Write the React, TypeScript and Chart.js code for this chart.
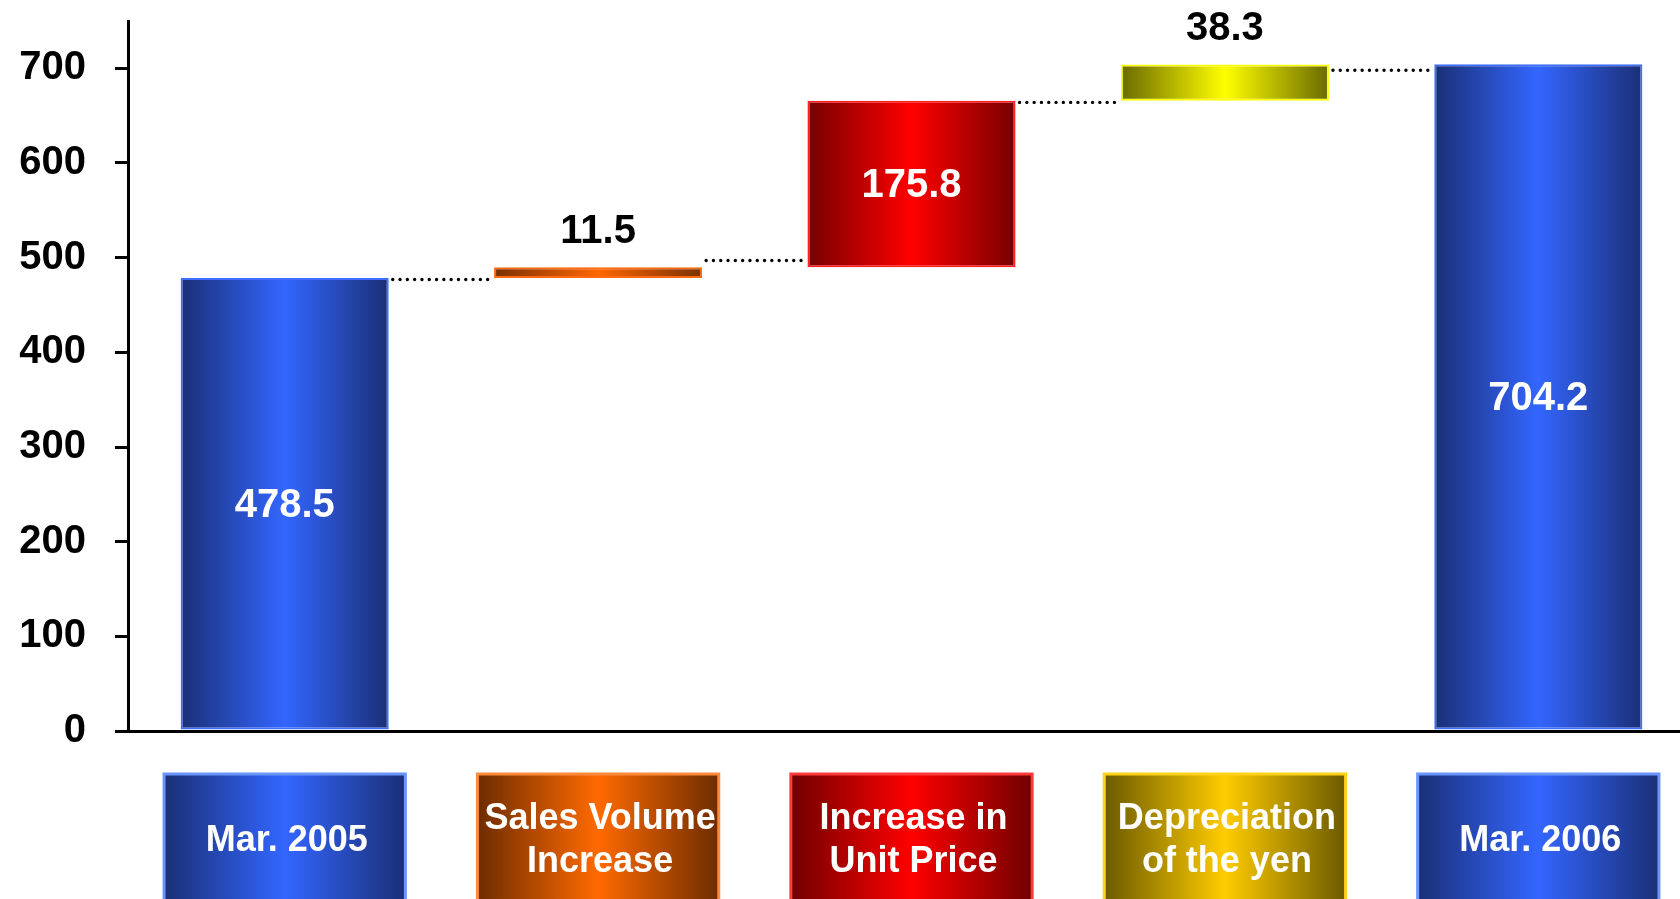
import React, { useEffect, useRef } from "react";
import { Chart, registerables } from "chart.js";

Chart.register(...registerables);

// ---- data ----
const categories = ["Mar. 2005", "Sales Volume Increase", "Increase in Unit Price", "Depreciation of the yen", "Mar. 2006"];
const categoryLines = [["Mar. 2005"], ["Sales Volume", "Increase"], ["Increase in", "Unit Price"], ["Depreciation", "of the yen"], ["Mar. 2006"]];
const barStart = [0, 478.5, 490.0, 665.8, 0];
const barEnd = [478.5, 490.0, 665.8, 704.1, 704.2];
const valueText = ["478.5", "11.5", "175.8", "38.3", "704.2"];
const valueInside = [true, false, true, false, true];
const connectorLevel = [477, 497, 664, 698];
const yMin = 0;
const yMax = 750;
const yStep = 100;

// ---- styles ----
const FONT = '"Liberation Sans", Arial, Helvetica, sans-serif';
const BAR_PCT = 0.664;
const BOX_PCT = 0.77;
const barPalette = [
  { dark: "#1a2f76", bright: "#3366ff", border: "#3f6fff" },
  { dark: "#7a3000", bright: "#ff6600", border: "#ff6a10" },
  { dark: "#760000", bright: "#ff0000", border: "#ff2020" },
  { dark: "#6a6a00", bright: "#ffff00", border: "#ffff00" },
  { dark: "#1a2f76", bright: "#3366ff", border: "#3f6fff" },
];
const boxPalette = [
  { dark: "#1a2f76", bright: "#3366ff", border: "#6a95ff" },
  { dark: "#6e2c00", bright: "#ff6a00", border: "#ff8a3a" },
  { dark: "#700000", bright: "#ff0000", border: "#ff3a3a" },
  { dark: "#6b5a00", bright: "#ffcc00", border: "#ffd21a" },
  { dark: "#1a2f76", bright: "#3366ff", border: "#6a95ff" },
];

function hGrad(ctx: CanvasRenderingContext2D, x0: number, x1: number, dark: string, bright: string) {
  const g = ctx.createLinearGradient(x0, 0, x1, 0);
  g.addColorStop(0, dark);
  g.addColorStop(0.5, bright);
  g.addColorStop(1, dark);
  return g;
}

const overlayPlugin = {
  id: "overlay",
  afterDatasetsDraw(chart: any) {
    const ctx: CanvasRenderingContext2D = chart.ctx;
    const meta = chart.getDatasetMeta(0);
    const ys = chart.scales.y;
    // dotted connectors
    ctx.save();
    ctx.strokeStyle = "#000";
    ctx.lineWidth = 3.4;
    ctx.lineCap = "round";
    ctx.setLineDash([0, 7.3]);
    for (let i = 0; i < connectorLevel.length; i++) {
      const a = meta.data[i].getProps(["x", "width"], true);
      const b = meta.data[i + 1].getProps(["x", "width"], true);
      const y = ys.getPixelForValue(connectorLevel[i]);
      ctx.beginPath();
      ctx.moveTo(a.x + a.width / 2 + 4, y);
      ctx.lineTo(b.x - b.width / 2 - 3, y);
      ctx.stroke();
    }
    ctx.restore();
    // value labels
    ctx.save();
    ctx.font = `bold 40px ${FONT}`;
    ctx.textAlign = "center";
    meta.data.forEach((el: any, i: number) => {
      const p = el.getProps(["x", "y", "base"], true);
      const top = Math.min(p.y, p.base);
      const bot = Math.max(p.y, p.base);
      if (valueInside[i]) {
        ctx.fillStyle = "#ffffff";
        ctx.textBaseline = "middle";
        ctx.fillText(valueText[i], p.x, (top + bot) / 2 + 2);
      } else {
        ctx.fillStyle = "#000000";
        ctx.textBaseline = "alphabetic";
        ctx.fillText(valueText[i], p.x, top - 24);
      }
    });
    ctx.restore();
  },
  afterDraw(chart: any) {
    const ctx: CanvasRenderingContext2D = chart.ctx;
    const xs = chart.scales.x;
    const area = chart.chartArea;
    const catW = xs.width / categories.length;
    const w = catW * BOX_PCT;
    const top = area.bottom + 43;
    const h = 140;
    ctx.save();
    categories.forEach((_, i) => {
      const cx = xs.getPixelForValue(i);
      const pal = boxPalette[i];
      const x0 = cx - w / 2;
      ctx.fillStyle = hGrad(ctx, x0, x0 + w, pal.dark, pal.bright);
      ctx.fillRect(x0, top, w, h);
      ctx.strokeStyle = pal.border;
      ctx.lineWidth = 3;
      ctx.strokeRect(x0, top, w, h);
      ctx.fillStyle = "#ffffff";
      ctx.font = `bold 36px ${FONT}`;
      ctx.textAlign = "center";
      ctx.textBaseline = "middle";
      const lines = categoryLines[i];
      const lh = 43;
      const midY = top + 66;
      lines.forEach((ln, k) => {
        const y = midY + (k - (lines.length - 1) / 2) * lh;
        ctx.fillText(ln, cx + 2, y + 1);
      });
    });
    ctx.restore();
  },
};

export default function App() {
  const ref = useRef<HTMLCanvasElement | null>(null);
  useEffect(() => {
    if (!ref.current) return;
    const chart = new Chart(ref.current, {
      type: "bar",
      data: {
        labels: categories,
        datasets: [
          {
            data: barStart.map((s, i) => [s, barEnd[i]]) as any,
            backgroundColor: (c: any) => {
              if (c.type !== "data") return "#3366ff";
              const chart = c.chart;
              const xs = chart.scales && chart.scales.x;
              const pal = barPalette[c.dataIndex];
              if (!xs || !xs.width) return pal.bright;
              const cx = xs.getPixelForValue(c.dataIndex);
              const half = (xs.width / categories.length) * BAR_PCT / 2;
              return hGrad(chart.ctx, cx - half, cx + half, pal.dark, pal.bright);
            },
            borderColor: barPalette.map((p) => p.border),
            borderWidth: 2,
            borderSkipped: false,
            categoryPercentage: 1,
            barPercentage: BAR_PCT,
          },
        ],
      },
      options: {
        responsive: false,
        animation: false,
        devicePixelRatio: 1,
        layout: { padding: { top: 21, left: 0, right: 0, bottom: 0 } },
        plugins: { legend: { display: false }, tooltip: { enabled: false } },
        scales: {
          x: {
            type: "category",
            z: 1,
            grid: { display: false },
            ticks: { display: false },
            border: { display: true, color: "#000", width: 3 },
            afterFit: (s: any) => {
              s.height = 168;
              s.paddingLeft = 0;
              s.paddingRight = 0;
            },
          },
          y: {
            min: yMin,
            max: yMax,
            grid: { display: true, drawOnChartArea: false, drawTicks: true, tickLength: 13, color: "#000", lineWidth: 3 },
            border: { display: true, color: "#000", width: 3 },
            ticks: {
              stepSize: yStep,
              includeBounds: false,
              color: "#000",
              padding: 29,
              font: { family: FONT, size: 40, weight: "bold" },
            },
            afterFit: (s: any) => {
              s.width = 128;
              s.paddingTop = 0;
              s.paddingBottom = 0;
            },
          },
        },
      },
      plugins: [overlayPlugin],
    });
    return () => chart.destroy();
  }, []);
  return (
    <div style={{ position: "fixed", left: 0, top: 0, width: 1680, height: 899, overflow: "hidden", background: "#ffffff" }}>
      <canvas ref={ref} width={1695} height={899} style={{ width: 1695, height: 899, display: "block" }} />
    </div>
  );
}
